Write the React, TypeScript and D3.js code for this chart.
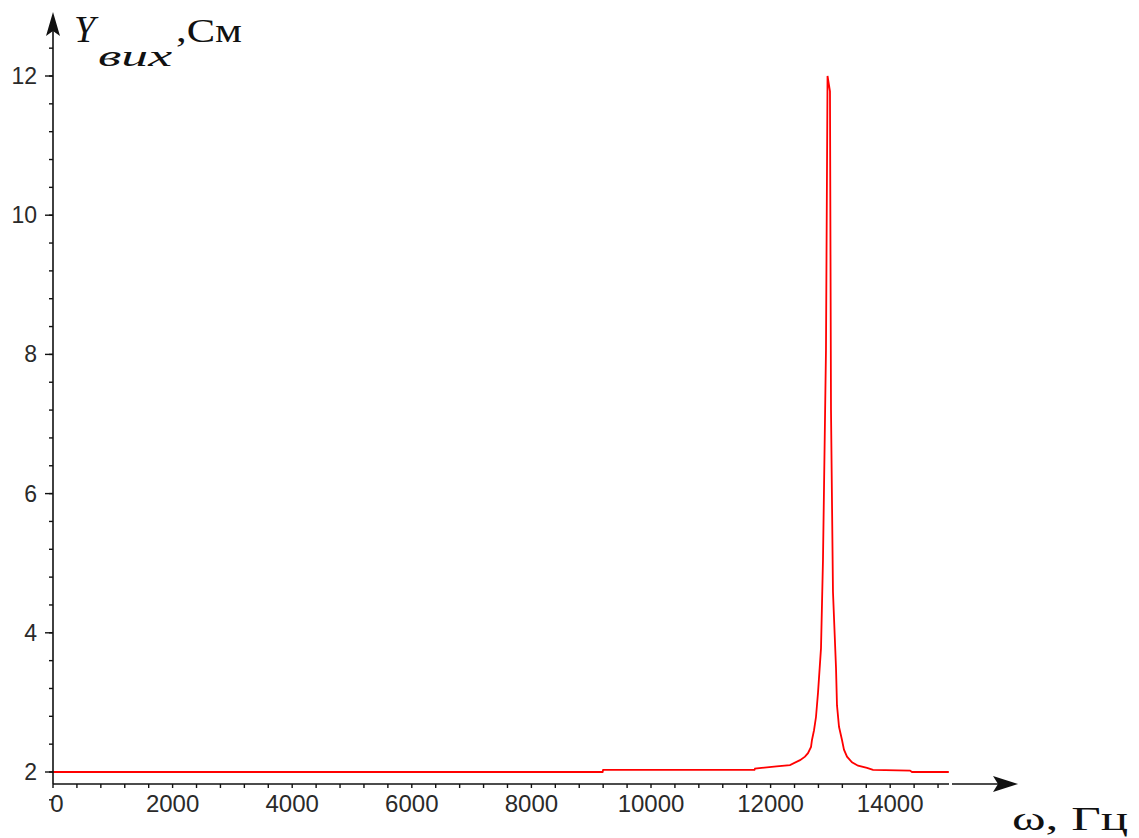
import React from "react";
import * as d3 from "d3";

const W = 1139;
const H = 838;

// Frequency (Hz) and output admittance (S)
const freqHz = [0, 9190, 9200, 11730, 11740, 12100, 12324, 12492, 12575, 12625, 12676, 12692, 12726, 12759, 12793, 12843, 12876, 12926, 12952, 12993, 13010, 13043, 13094, 13110, 13144, 13194, 13227, 13278, 13361, 13462, 13612, 13712, 14331, 14365, 14980];
const admittance = [2.0, 2.0, 2.03, 2.03, 2.05, 2.08, 2.10, 2.17, 2.22, 2.27, 2.36, 2.46, 2.60, 2.79, 3.14, 3.78, 5.05, 8.06, 12.0, 11.78, 7.2, 4.59, 3.49, 2.96, 2.65, 2.46, 2.32, 2.22, 2.14, 2.09, 2.06, 2.03, 2.02, 2.0, 2.0];

const xTickValues = [0, 2000, 4000, 6000, 8000, 10000, 12000, 14000];
const yTickValues = [2, 4, 6, 8, 10, 12];
const xMinorStep = 400;
const yMinorStep = 0.4;

export default function App() {
  const x = d3.scaleLinear().domain([0, 15000]).range([53, 950]);
  const y = d3.scaleLinear().domain([2, 12]).range([772, 76]);
  const axisY = 784;
  const axisX = 53;
  const yTop = 12;

  const pts = freqHz.map((f, i) => [f, admittance[i]] as [number, number]);
  const line = d3
    .line<[number, number]>()
    .x((d) => x(d[0]))
    .y((d) => y(d[1]));

  const xMinor = d3.range(0, 15000 + 1, xMinorStep).filter((v) => x(v) <= 950);
  const yMinor: number[] = [];
  for (let v = 2; y(v) > yTop + 14; v += yMinorStep) yMinor.push(+v.toFixed(2));
  const yBelow = [2 - yMinorStep];

  return (
    <svg
      width={W}
      height={H}
      style={{ position: "absolute", left: 0, top: 0, background: "#fff" }}
    >
      <rect x={0} y={0} width={W} height={H} fill="#fff" />
      {/* curve */}
      <path d={line(pts) || ""} fill="none" stroke="#ff0000" strokeWidth={1.8} />

      {/* x axis */}
      <line x1={axisX} x2={949} y1={axisY} y2={axisY} stroke="#111" strokeWidth={1.6} />
      <line x1={952} x2={1000} y1={axisY} y2={axisY} stroke="#111" strokeWidth={1.6} />
      <path d={`M1018,${axisY} L993,${axisY - 8} L998,${axisY} L993,${axisY + 8} Z`} fill="#111" />
      {xMinor.map((v) => (
        <line key={"xm" + v} x1={x(v)} x2={x(v)} y1={axisY} y2={axisY + 4} stroke="#111" strokeWidth={1.4} />
      ))}
      {xTickValues.map((v) => (
        <text
          key={"xl" + v}
          x={x(v) + (v === 0 ? 4 : 0)}
          y={812}
          textAnchor="middle"
          fontFamily="Liberation Sans, Arial, sans-serif"
          fontSize={24}
          fill="#2a2a2a"
        >
          {v}
        </text>
      ))}

      {/* y axis */}
      <line x1={axisX} x2={axisX} y1={axisY} y2={yTop + 12} stroke="#111" strokeWidth={1.6} />
      <path d={`M${axisX},${yTop} L${axisX - 7},${yTop + 24} L${axisX},${yTop + 19} L${axisX + 7},${yTop + 24} Z`} fill="#111" />
      {[...yBelow, ...yMinor].map((v) => (
        <line key={"ym" + v} x1={axisX - 4} x2={axisX} y1={y(v)} y2={y(v)} stroke="#111" strokeWidth={1.4} />
      ))}
      {yTickValues.map((v) => (
        <g key={"yl" + v}>
          <line x1={axisX - 8} x2={axisX} y1={y(v)} y2={y(v)} stroke="#111" strokeWidth={1.4} />
          <text
            x={37}
            y={y(v) + 8}
            textAnchor="end"
            fontFamily="Liberation Sans, Arial, sans-serif"
            fontSize={23}
            fill="#2a2a2a"
          >
            {v}
          </text>
        </g>
      ))}

      {/* axis titles */}
      <text x={74} y={42} fontFamily="Liberation Serif, Times New Roman, serif" fontStyle="italic" fontSize={38} fill="#111">
        Y
      </text>
      <text
        x={98}
        y={66}
        fontFamily="Liberation Serif, Times New Roman, serif"
        fontStyle="italic"
        fontSize={30}
        fill="#111"
        textLength={74}
        lengthAdjust="spacingAndGlyphs"
      >
        вих
      </text>
      <text
        x={176}
        y={42}
        fontFamily="Liberation Serif, Times New Roman, serif"
        fontSize={34}
        fill="#111"
        textLength={66}
        lengthAdjust="spacingAndGlyphs"
      >
        ,См
      </text>
      <text
        x={1012}
        y={830}
        fontFamily="Liberation Serif, Times New Roman, serif"
        fontSize={34}
        fill="#111"
        textLength={116}
        lengthAdjust="spacingAndGlyphs"
      >
        ω, Гц
      </text>
    </svg>
  );
}
